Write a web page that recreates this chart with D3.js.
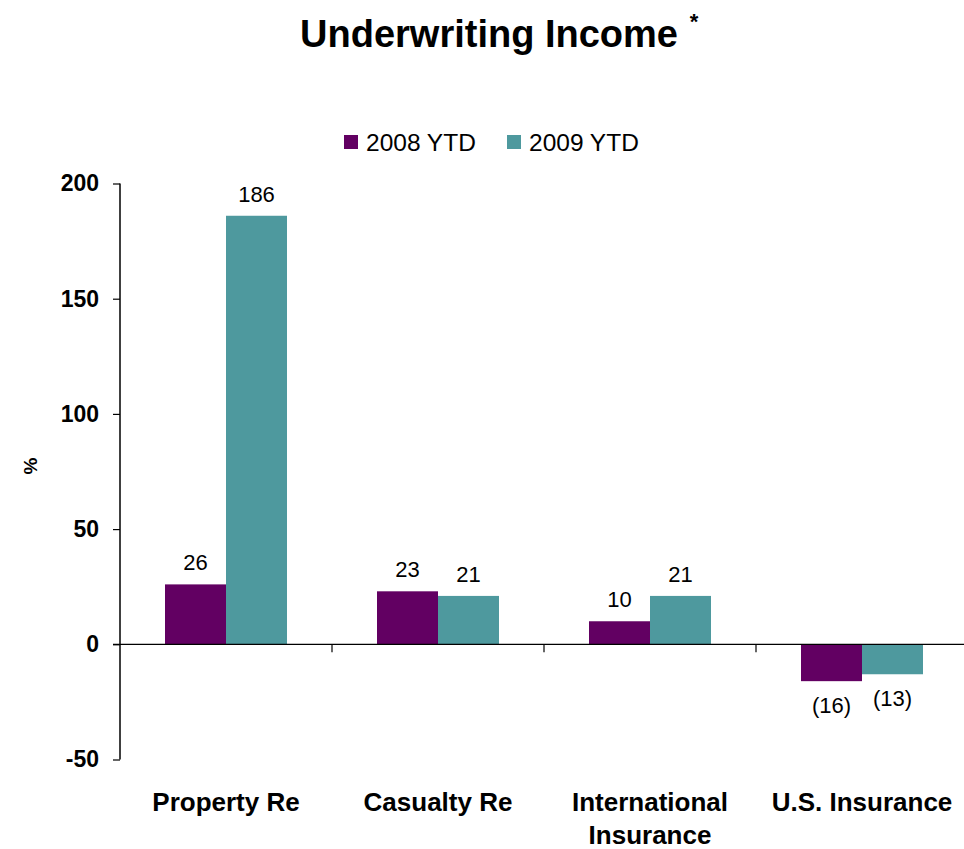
<!DOCTYPE html>
<html><head><meta charset="utf-8">
<script src="https://cdn.jsdelivr.net/npm/d3@7"></script>
<style>body{margin:0;background:#fff;} svg{display:block;font-family:"Liberation Sans",Arial,sans-serif;}</style>
</head><body>
<script>
const categories = [["Property Re"],["Casualty Re"],["International","Insurance"],["U.S. Insurance"]];
const seriesNames = ["2008 YTD","2009 YTD"];
const values2008 = [26,23,10,-16];
const values2009 = [186,21,21,-13];
const yTicks = [-50,0,50,100,150,200];
const colors = ["#620062","#4E999E"];

const W=964,H=849;
const svg=d3.select("body").append("svg").attr("width",W).attr("height",H);
const x0=d3.scaleBand().domain(d3.range(categories.length)).range([120,968]).paddingInner(0).paddingOuter(0);
const y=d3.scaleLinear().domain([-50,200]).range([759.5,183.5]);
const x1=d3.scaleBand().domain([0,1]).range([0,x0.bandwidth()]).paddingOuter(45/61).paddingInner(0);

// title
svg.append("text").attr("x",489).attr("y",47).attr("text-anchor","middle").attr("font-weight","bold").attr("font-size",38).text("Underwriting Income");
svg.append("text").attr("x",694).attr("y",29).attr("text-anchor","middle").attr("font-weight","bold").attr("font-size",22).text("*");

// legend
const lg=svg.append("g");
[[344,366],[507,529]].forEach((p,i)=>{
  lg.append("rect").attr("x",p[0]).attr("y",135).attr("width",14).attr("height",14).attr("fill",colors[i]);
  lg.append("text").attr("x",p[1]).attr("y",151).attr("font-size",24.5).text(seriesNames[i]);
});

// bars
const data=[values2008,values2009];
categories.forEach((c,ci)=>{
  data.forEach((vals,si)=>{
    const v=vals[ci];
    const bx=x0(ci)+x1(si);
    svg.append("rect").attr("x",bx).attr("width",x1.bandwidth())
      .attr("y",y(Math.max(0,v))).attr("height",Math.abs(y(v)-y(0))).attr("fill",colors[si]);
    const lab = v<0?"("+Math.abs(v)+")":String(v);
    svg.append("text").attr("x",bx+x1.bandwidth()/2).attr("y",v<0?y(v)+32:y(v)-14)
      .attr("text-anchor","middle").attr("font-size",22).text(lab);
  });
});

// y axis
const ya=svg.append("g").attr("transform","translate(120,0)").call(d3.axisLeft(y).tickValues(yTicks).tickSize(7).tickPadding(14).tickFormat(d=>d<0?"-"+Math.abs(d):d));
ya.select(".domain").attr("stroke","#000").attr("stroke-width",1.5).attr("d","M-0,"+y(-50)+"V"+y(200));
ya.selectAll(".tick line").attr("stroke","#000").attr("stroke-width",1.2);
ya.selectAll("text").attr("font-size",23).attr("font-weight","bold").attr("fill","#000").attr("font-family","Liberation Sans, Arial, sans-serif");

// zero line
svg.append("line").attr("x1",113).attr("x2",964).attr("y1",y(0)).attr("y2",y(0)).attr("stroke","#000").attr("stroke-width",1.2);
// category ticks
d3.range(1,categories.length).forEach(i=>{
  svg.append("line").attr("x1",x0(i)).attr("x2",x0(i)).attr("y1",y(0)).attr("y2",y(0)+8).attr("stroke","#000").attr("stroke-width",1.2);
});
// category labels
categories.forEach((c,ci)=>{
  const t=svg.append("text").attr("text-anchor","middle").attr("font-weight","bold").attr("font-size",26);
  c.forEach((line,li)=>{
    t.append("tspan").attr("x",x0(ci)+x0.bandwidth()/2).attr("y",811+li*33).text(line);
  });
});

// y label
svg.append("text").attr("transform","translate(37,466) rotate(-90)").attr("text-anchor","middle").attr("font-weight","bold").attr("font-size",19).text("%");
</script>
</body></html>
